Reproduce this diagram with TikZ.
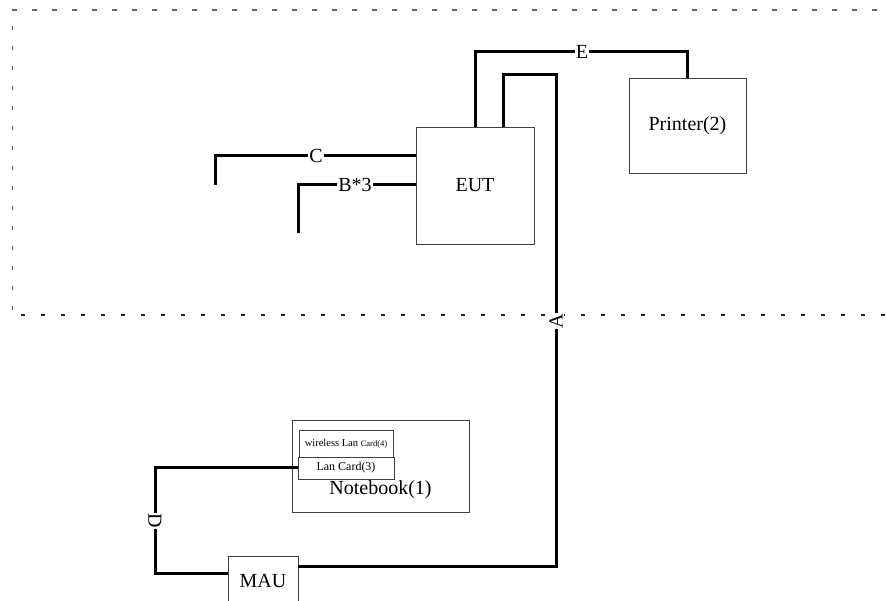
\documentclass[tikz,border=0pt]{standalone}
\usepackage{fontspec}
\setmainfont{Liberation Serif}
\begin{document}
\begin{tikzpicture}[x=1pt,y=-1pt,
  box/.style={draw=black!75,line width=0.9pt,rectangle,inner sep=0pt,font=\fontsize{20}{22}\selectfont},
  conn/.style={line width=3pt,black},
  lab/.style={fill=white,inner sep=1.2pt,font=\fontsize{20}{22}\selectfont},
  fence/.style={line width=1.5pt,black!60},
]
\clip (0,0) rectangle (887,601);
\useasboundingbox (0,0) rectangle (887,601);
% dashed boundary
\draw[fence,dash pattern=on 5pt off 15pt] (12,10) -- (887,10);
\draw[fence,line width=1.7pt,dash pattern=on 4pt off 16pt] (12.5,26) -- (12.5,310);
\draw[line width=1.5pt,black!85,dash pattern=on 4pt off 16pt] (21,315) -- (887,315);
% boxes
\node[box,minimum width=118pt,minimum height=117pt] (eut) at (475,185.5) {EUT};
\node[box,minimum width=117pt,minimum height=95pt] (printer) at (687.5,125.5) {Printer(2)};
\node[box,minimum width=177pt,minimum height=92pt] (notebook) at (380.5,466) {};
\node[font=\fontsize{20}{22}\selectfont] (nbl) at (380.5,490) {Notebook(1)};
\node[box,minimum width=94pt,minimum height=27pt,font=\fontsize{10.5}{12}\selectfont] (wlan) at (346,443.5) {wireless Lan {\fontsize{8.5}{10}\selectfont Card(4)}};
\node[box,fill=white,minimum width=96pt,minimum height=22pt,font=\fontsize{12}{14}\selectfont] (lan) at (346,468) {Lan Card(3)};
\node[box,minimum width=70pt,minimum height=50pt] (mau) at (263,581) {MAU};
% coordinates
\coordinate (eA) at ([xshift=88pt]eut.north west);
\coordinate (cE) at (475,52);
\coordinate (cA1) at (556,75);
\coordinate (cA2) at (556,567);
\coordinate (cD1) at (155,468);
\coordinate (cD2) at (155,574);
\coordinate (cC) at (215,156);
\coordinate (cCe) at (215,185);
\coordinate (cB) at (298,185);
\coordinate (cBe) at (298,233);
% connectors
\draw[conn] (eut.north) -- (cE) -| (printer.north);
\draw[conn] (eA) |- (cA1) -- (cA2) -- (mau.east |- cA2);
\draw[conn] (lan.west) -- (cD1) -- (cD2) -- (mau.west |- cD2);
\draw[conn] (eut.west |- cC) -- (cC) -- (cCe);
\draw[conn] (eut.west |- cB) -- (cB) -- (cBe);
% labels
\node[lab] (lE) at (582,52) {E};
\node[lab,rotate=90] (lA) at (556,321) {A};
\node[lab,rotate=-90] (lD) at (155,521) {D};
\node[lab] (lC) at (316,156) {C};
\node[lab] (lB) at (355,185) {B*3};
\end{tikzpicture}
\end{document}
